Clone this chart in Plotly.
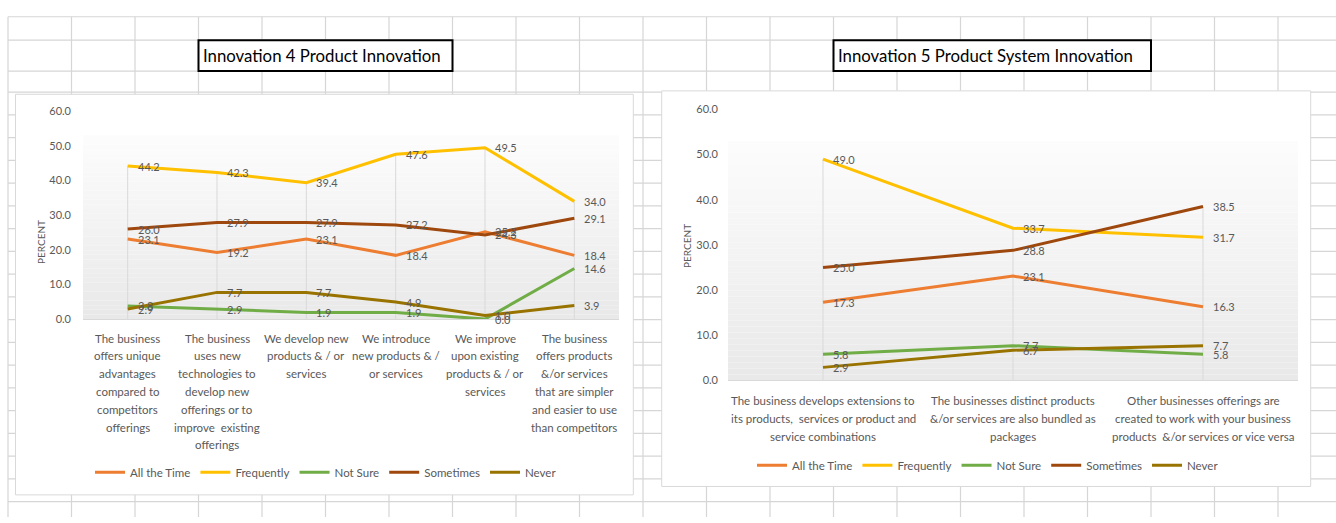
import numpy as np
import plotly.graph_objects as go

W, H = 1336, 523

# ---- data -------------------------------------------------------------
series_names = ["All the Time", "Frequently", "Not Sure", "Sometimes", "Never"]
series_colors = ["#ED7D31", "#FFC000", "#70AD47", "#9E480E", "#997300"]

inn4_categories = [
    "The business<br>offers unique<br>advantages<br>compared to<br>competitors<br>offerings",
    "The business<br>uses new<br>technologies to<br>develop new<br>offerings or to<br>improve  existing<br>offerings",
    "We develop new<br>products & / or<br>services",
    "We introduce<br>new products & /<br>or services",
    "We improve<br>upon existing<br>products & / or<br>services",
    "The business<br>offers products<br>&/or services<br>that are simpler<br>and easier to use<br>than competitors",
]
inn4_all_the_time = [23.1, 19.2, 23.1, 18.4, 25.2, 18.4]
inn4_frequently = [44.2, 42.3, 39.4, 47.6, 49.5, 34.0]
inn4_not_sure = [3.8, 2.9, 1.9, 1.9, 0.0, 14.6]
inn4_sometimes = [26.0, 27.9, 27.9, 27.2, 24.3, 29.1]
inn4_never = [2.9, 7.7, 7.7, 4.9, 1.0, 3.9]

inn5_categories = [
    "The business develops extensions to<br>its products,  services or product and<br>service combinations",
    "The businesses distinct products<br>&/or services are also bundled as<br>packages",
    "Other businesses offerings are<br>created to work with your business<br>products  &/or services or vice versa",
]
inn5_all_the_time = [17.3, 23.1, 16.3]
inn5_frequently = [49.0, 33.7, 31.7]
inn5_not_sure = [5.8, 7.7, 5.8]
inn5_sometimes = [25.0, 28.8, 38.5]
inn5_never = [2.9, 6.7, 7.7]

y_ticks = [0, 10, 20, 30, 40, 50, 60]

chart_titles = ["Innovation 4 Product Innovation", "Innovation 5 Product System Innovation"]

# ---- styling helpers --------------------------------------------------
FONT = "Lato, Liberation Sans, sans-serif"
TXT = "#595959"
GRID = "#d6d6d6"


def px(x):
    return x / W


def py(y):
    return 1 - y / H


fig = go.Figure()
shapes = []
annotations = []

# spreadsheet cell grid behind the charts
col_w, row_h = 63.5, 23.33
row_lines = [10, 34, 65.7] + list(87.3 + row_h * np.arange(20))
col_lines = list(8 + col_w * np.arange(22))
for yy in row_lines:
    if yy <= H:
        shapes.append(dict(type="line", xref="paper", yref="paper", x0=px(8), x1=1,
                           y0=py(yy), y1=py(yy), line=dict(color=GRID, width=1.2), layer="below"))
for xx in col_lines:
    if xx <= W:
        shapes.append(dict(type="line", xref="paper", yref="paper", x0=px(xx), x1=px(xx),
                           y0=py(10), y1=0, line=dict(color=GRID, width=1.2), layer="below"))

# chart panels
panels = [(15.5, 89.5, 633.3, 500.3), (661.7, 86, 1310.7, 491.7)]
for x0, y0, x1, y1 in panels:
    shapes.append(dict(type="rect", xref="paper", yref="paper", x0=px(x0), x1=px(x1),
                       y0=py(y1), y1=py(y0), fillcolor="white",
                       line=dict(color="#d9d9d9", width=1), layer="below"))

# title boxes
title_boxes = [(198.5, 452.5), (833.5, 1151)]
for (x0, x1), title in zip(title_boxes, chart_titles):
    shapes.append(dict(type="rect", xref="paper", yref="paper", x0=px(x0), x1=px(x1),
                       y0=py(65.7), y1=py(34), fillcolor="white",
                       line=dict(color="black", width=2), layer="below"))
    annotations.append(dict(xref="paper", yref="paper", x=px(x0 + 2), y=py(50),
                            xanchor="left", yanchor="middle", showarrow=False,
                            text=title, font=dict(family=FONT, size=16.8, color="black")))


def add_chart(cats, series, xa, ya, legend_name, label_gap, line_gap):
    xs = list(range(len(cats)))
    xref, yref = xa, ya.replace("axis", "")
    # soft gradient fill of the plot area
    n = 40
    top = 53.0
    for k in range(n):
        t = k / (n - 1)
        c = int(round(233 + (252 - 233) * t))
        shapes.append(dict(type="rect", xref=f"{xref} domain", yref=yref,
                           x0=0, x1=1, y0=top * k / n, y1=top * (k + 1) / n,
                           fillcolor=f"rgb({c},{c},{c})", line=dict(width=0), layer="below"))
    # drop lines from the highest point of each category
    dx, dy = [], []
    for i in xs:
        dx += [i, i, None]
        dy += [0, max(s[i] for s in series), None]
    fig.add_trace(go.Scatter(x=dx, y=dy, mode="lines", line=dict(color="#d9d9d9", width=1),
                             hoverinfo="skip", showlegend=False, xaxis=xref, yaxis=yref))
    for name, color, vals in zip(series_names, series_colors, series):
        fig.add_trace(go.Scatter(x=xs, y=vals, mode="lines", name=name,
                                 line=dict(color=color, width=3),
                                 xaxis=xref, yaxis=yref, legend=legend_name))
        for i, v in zip(xs, vals):
            annotations.append(dict(xref=xref, yref=yref, x=i, y=v, xanchor="left",
                                    yanchor="middle", xshift=8, showarrow=False,
                                    text=f"{v:.1f}", font=dict(family=FONT, size=11, color=TXT)))
    # wrapped category labels, one line at a time
    for i, cat in zip(xs, cats):
        for k, line in enumerate(cat.split("<br>")):
            annotations.append(dict(xref=xref, yref=f"{yref} domain", x=i, y=0,
                                    xanchor="center", yanchor="middle",
                                    yshift=-(label_gap + line_gap * k), showarrow=False,
                                    text=line, font=dict(family=FONT, size=11.5, color=TXT)))


add_chart(inn4_categories,
          [inn4_all_the_time, inn4_frequently, inn4_not_sure, inn4_sometimes, inn4_never],
          "x", "yaxis", "legend", 19, 17.8)
add_chart(inn5_categories,
          [inn5_all_the_time, inn5_frequently, inn5_not_sure, inn5_sometimes, inn5_never],
          "x2", "yaxis2", "legend2", 20, 18)

# axis titles
for xc, yc in [(33, 241), (687, 245)]:
    annotations.append(dict(xref="paper", yref="paper", x=px(xc), y=py(yc), textangle=-90,
                            showarrow=False, text="PERCENT",
                            font=dict(family=FONT, size=10, color=TXT)))

axis_font = dict(family=FONT, size=11, color=TXT)
xcommon = dict(showgrid=False, zeroline=False, showline=True, linecolor="#d9d9d9",
               linewidth=1, ticks="", showticklabels=False, fixedrange=True)
ycommon = dict(showgrid=False, zeroline=False, showline=False, ticks="", range=[0, 60],
               tickvals=y_ticks, ticktext=[f"{v:.1f}" for v in y_ticks],
               tickfont=axis_font, fixedrange=True)

legend_font = dict(family=FONT, size=11.5, color=TXT)
fig.update_layout(
    width=W, height=H, margin=dict(l=0, r=0, t=0, b=0),
    paper_bgcolor="white", plot_bgcolor="rgba(0,0,0,0)",
    font=dict(family=FONT, color=TXT),
    xaxis=dict(domain=[px(83), px(619)], range=[-0.5, 5.5], anchor="y", **xcommon),
    yaxis=dict(domain=[py(320), py(107)], anchor="x", ticklabelstandoff=11, **ycommon),
    xaxis2=dict(domain=[px(728), px(1298)], range=[-0.5, 2.5], anchor="y2", **xcommon),
    yaxis2=dict(domain=[py(383), py(105)], anchor="x2", ticklabelstandoff=9, **ycommon),
    legend=dict(orientation="h", x=px(326), xanchor="center", y=py(477), yanchor="middle",
                font=legend_font, bgcolor="rgba(0,0,0,0)"),
    legend2=dict(orientation="h", x=px(988), xanchor="center", y=py(470), yanchor="middle",
                 font=legend_font, bgcolor="rgba(0,0,0,0)"),
    shapes=shapes, annotations=annotations, showlegend=True,
)

# pin the figure to the top-left corner of the page
page_css = (
    "document.documentElement.style.overflow='hidden';"
    "document.body.style.margin='0';document.body.style.overflow='hidden';"
    "var d=document.getElementById('{plot_id}');"
    "d.style.position='fixed';d.style.left='0px';d.style.top='0px';"
)
fig.write_html("out.html", post_script=page_css)
